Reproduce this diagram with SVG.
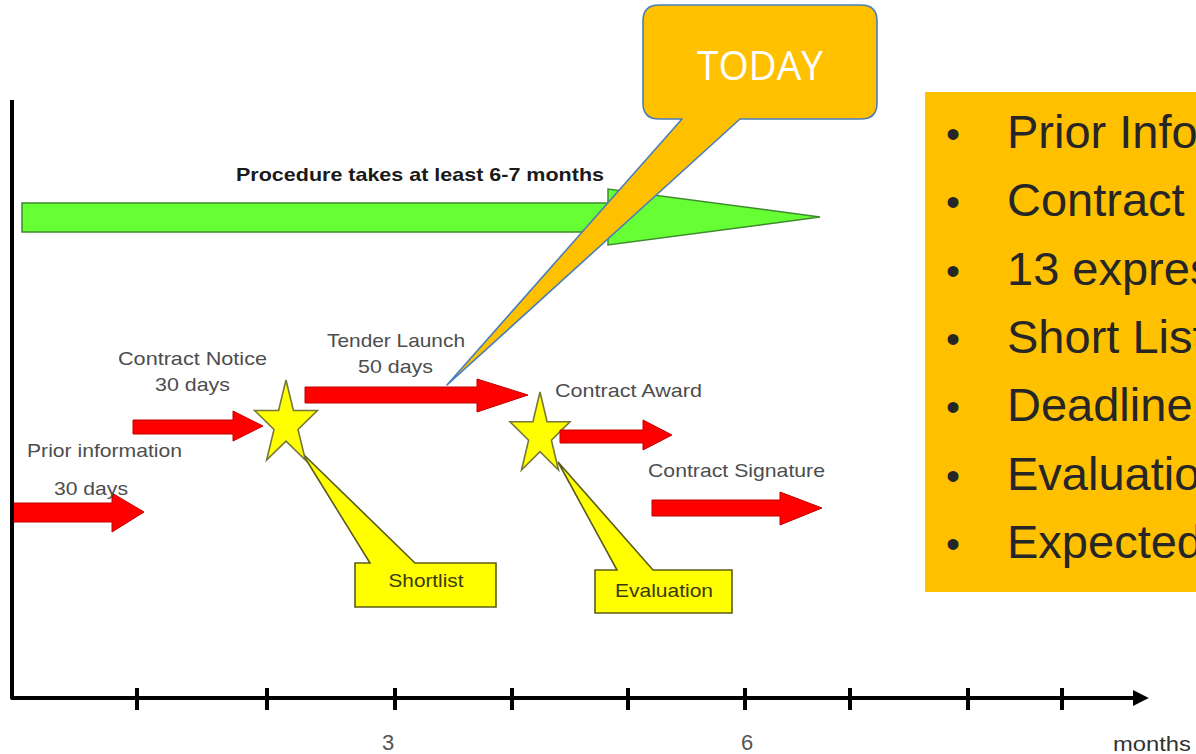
<svg xmlns="http://www.w3.org/2000/svg" width="1196" height="754" viewBox="0 0 1196 754">
  <style>
    .lbl { font-family: "Liberation Sans", Arial, sans-serif; font-size: 19px; fill: #4d4d4d; }
    .ax { font-family: "Liberation Sans", Arial, sans-serif; fill: #555555; }
    .red { fill: #ff0000; stroke: #c00000; stroke-width: 1; }
    .star { fill: #ffff00; stroke: #77773a; stroke-width: 1.6; stroke-linejoin: miter; }
    .call { fill: #ffff00; stroke: #5c5c1a; stroke-width: 1.6; }
    .clbl { font-family: "Liberation Sans", Arial, sans-serif; font-size: 19px; fill: #3a3a10; text-anchor: middle; }
    .tick { stroke: #000; stroke-width: 4; }
    .bul { font-family: "Liberation Sans", Arial, sans-serif; font-size: 47px; fill: #262626; }
    .dot { font-size: 40px; text-anchor: middle; }
  </style>
  <defs>
    <marker id="axisHead" viewBox="0 0 10 10" refX="2" refY="5" markerWidth="4" markerHeight="4" orient="auto" markerUnits="strokeWidth">
      <path d="M0,0 L10,5 L0,10 Z" fill="#000"/>
    </marker>
  </defs>

  <rect width="1196" height="754" fill="#ffffff"/>

  <!-- green procedure arrow -->
  <g id="procedure">
    <path d="M22,203 H608 V189 L820,217 L608,245 V232 H22 Z" fill="#66ff33" stroke="#3f8a2f" stroke-width="1.5"/>
    <text x="236" y="181" font-family="Liberation Sans, Arial, sans-serif" font-size="19" font-weight="bold" fill="#1a1a1a" textLength="368" lengthAdjust="spacingAndGlyphs">Procedure takes at least 6-7 months</text>
  </g>

  <!-- callouts (behind stars) -->
  <g id="shortlist">
    <path class="call" d="M355,563 H370 L302,453 L415,563 H496 V607 H355 Z"/>
    <text class="clbl" x="426" y="587" textLength="75" lengthAdjust="spacingAndGlyphs">Shortlist</text>
  </g>
  <g id="evaluation">
    <path class="call" d="M595,570 H617 L558,462 L653,570 H732 V613 H595 Z"/>
    <text class="clbl" x="664" y="597" textLength="98" lengthAdjust="spacingAndGlyphs">Evaluation</text>
  </g>

  <!-- stars -->
  <g id="star1">
    <polygon class="star" points="286,380 293.4,410.5 317.4,410.5 298,429.4 305.4,460 286,441.1 266.6,460 274,429.4 254.6,410.5 278.6,410.5"/>
  </g>
  <g id="star2">
    <polygon class="star" points="540,392 547.1,421.8 570,421.8 551.4,440.2 558.5,470 540,451.6 521.5,470 528.6,440.2 510,421.8 532.9,421.8"/>
  </g>

  <!-- red phase arrows -->
  <g id="prior-information">
    <path class="red" d="M12,503 H112 V493 L144,512 L112,532 V522 H12 Z"/>
    <text class="lbl" x="27" y="457" textLength="155" lengthAdjust="spacingAndGlyphs">Prior information</text>
    <text class="lbl" x="54" y="495" textLength="74" lengthAdjust="spacingAndGlyphs">30 days</text>
  </g>
  <g id="contract-notice">
    <path class="red" d="M133,420 H233 V411 L263,426 L233,441 V434 H133 Z"/>
    <text class="lbl" x="118" y="365" textLength="149" lengthAdjust="spacingAndGlyphs">Contract Notice</text>
    <text class="lbl" x="155" y="391" textLength="75" lengthAdjust="spacingAndGlyphs">30 days</text>
  </g>
  <g id="tender-launch">
    <path class="red" d="M305,387 H477 V379 L528,395 L477,412 V403 H305 Z"/>
    <text class="lbl" x="327" y="347" textLength="138" lengthAdjust="spacingAndGlyphs">Tender Launch</text>
    <text class="lbl" x="358" y="373" textLength="75" lengthAdjust="spacingAndGlyphs">50 days</text>
  </g>
  <g id="contract-award">
    <path class="red" d="M560,430 H643 V420 L672,435 L643,450 V443 H560 Z"/>
    <text class="lbl" x="555" y="397" textLength="147" lengthAdjust="spacingAndGlyphs">Contract Award</text>
  </g>
  <g id="contract-signature">
    <path class="red" d="M652,500 H780 V492 L822,508 L780,525 V516 H652 Z"/>
    <text class="lbl" x="648" y="477" textLength="177" lengthAdjust="spacingAndGlyphs">Contract Signature</text>
  </g>

  <!-- axes -->
  <g id="axes">
    <path d="M12,100 V698 H1136" fill="none" stroke="#000" stroke-width="4" stroke-linejoin="round" marker-end="url(#axisHead)"/>
    <line class="tick" x1="137" y1="688" x2="137" y2="710"/>
    <line class="tick" x1="267" y1="688" x2="267" y2="710"/>
    <line class="tick" x1="395" y1="688" x2="395" y2="710"/>
    <line class="tick" x1="512" y1="688" x2="512" y2="710"/>
    <line class="tick" x1="628" y1="688" x2="628" y2="710"/>
    <line class="tick" x1="745" y1="688" x2="745" y2="710"/>
    <line class="tick" x1="850" y1="688" x2="850" y2="710"/>
    <line class="tick" x1="968" y1="688" x2="968" y2="710"/>
    <line class="tick" x1="1062" y1="688" x2="1062" y2="710"/>
    <text class="ax" x="388" y="750" text-anchor="middle" style="font-size:22px">3</text>
    <text class="ax" x="747" y="750" text-anchor="middle" style="font-size:22px">6</text>
    <text class="ax" x="1113" y="751" style="font-size:21px; fill:#333333" textLength="78" lengthAdjust="spacingAndGlyphs">months</text>
  </g>

  <!-- TODAY callout -->
  <g id="today">
    <path d="M659,5 H861 Q877,5 877,21 V103 Q877,119 861,119 H740 L447,385 L682,119 H659 Q643,119 643,103 V21 Q643,5 659,5 Z" fill="#ffc000" stroke="#4a7ebb" stroke-width="1.6" stroke-linejoin="round"/>
    <text x="760" y="80" text-anchor="middle" font-family="Open Sans, Liberation Sans, sans-serif" font-size="40" fill="#ffffff" textLength="126" lengthAdjust="spacingAndGlyphs">TODAY</text>
  </g>

  <!-- bullet panel -->
  <g id="summary">
    <rect x="925" y="92" width="280" height="500" fill="#ffc000"/>
    <g class="bul">
      <text class="dot" x="953" y="148">•</text>
      <text class="dot" x="953" y="216">•</text>
      <text class="dot" x="953" y="285">•</text>
      <text class="dot" x="953" y="353">•</text>
      <text class="dot" x="953" y="421">•</text>
      <text class="dot" x="953" y="490">•</text>
      <text class="dot" x="953" y="558">•</text>
      <text x="1007" y="148">Prior Infor</text>
      <text x="1007" y="216">Contract</text>
      <text x="1007" y="285">13 express</text>
      <text x="1007" y="353">Short List</text>
      <text x="1007" y="421">Deadline</text>
      <text x="1007" y="490">Evaluation</text>
      <text x="1007" y="558">Expected</text>
    </g>
  </g>
</svg>
